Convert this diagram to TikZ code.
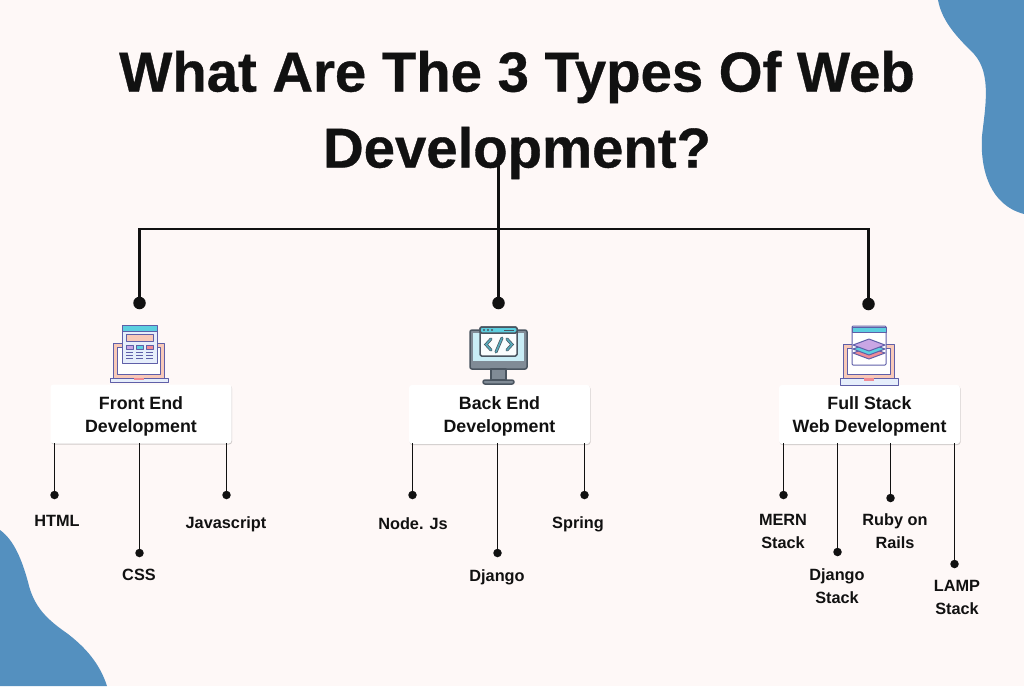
\documentclass[tikz,border=0pt]{standalone}
\usepackage{fontspec}
\setmainfont{Liberation Sans}
\newfontfamily\heavyfont[FakeBold=0.6]{Liberation Sans Bold}
\usetikzlibrary{shadows,calc}
\definecolor{bg}{HTML}{FEF8F7}
\definecolor{blob}{HTML}{5490BF}
\definecolor{ink}{HTML}{111111}
\definecolor{iconline}{HTML}{5F5FA8}
\definecolor{peach}{HTML}{F8C9B8}
\definecolor{lilac}{HTML}{C9A6E4}
\definecolor{aqua}{HTML}{5CCFE0}
\definecolor{rosy}{HTML}{F08C96}
\definecolor{pale}{HTML}{E6EEFB}
\definecolor{slate}{HTML}{4A5560}
\definecolor{slatelt}{HTML}{808B96}
\definecolor{sky}{HTML}{C9EDF6}
\newcommand{\cardlift}{\rule{0pt}{17pt}}
\tikzset{
  titletext/.style={font=\heavyfont\fontsize{56.3pt}{76pt}\selectfont,text=ink,align=center,inner sep=0pt},
  cardbox/.style={fill=white,rounded corners=3pt,minimum width=181pt,minimum height=59pt,inner sep=0pt,align=center,
    font=\fontsize{17.8pt}{23pt}\selectfont\bfseries,text=ink,
    drop shadow={shadow xshift=0.6pt,shadow yshift=-1pt,opacity=0.18,fill=black}},
  leaf/.style={font=\fontsize{16.3pt}{23pt}\selectfont\bfseries,text=ink,align=center,inner sep=0pt},
  trunk/.style={draw=ink,line width=2.4pt},
  twig/.style={draw=ink,line width=1.8pt},
  bigdot/.style={circle,fill=ink,minimum size=12.5pt,inner sep=0pt},
  smalldot/.style={circle,fill=ink,minimum size=8.5pt,inner sep=0pt},
  il/.style={draw=iconline,line width=1pt,line join=round},
  sl/.style={draw=slate,line width=1.5pt,line join=round},
}
\begin{document}
\begin{tikzpicture}[x=1pt,y=-1pt]
\useasboundingbox (0,0) rectangle (1024,686);
\fill[bg] (0,0) rectangle (1024,686);
% blobs
\fill[blob] (938,0) .. controls (942,22) and (958,38) .. (974,54)
  .. controls (992,74) and (985,108) .. (982,136)
  .. controls (980,170) and (990,205) .. (1024,214) -- (1024,0) -- cycle;
\fill[blob] (0,530) .. controls (14,540) and (22,560) .. (28,582)
  .. controls (34,608) and (48,620) .. (68,634)
  .. controls (86,648) and (100,664) .. (107,686) -- (0,686) -- cycle;
% connectors
\coordinate (root) at (498.5,165);
\coordinate (busL) at (139.5,229);
\coordinate (busM) at (498.5,229);
\coordinate (busR) at (868.5,229);
\node[bigdot] (dFront) at (139.5,303) {};
\node[bigdot] (dBack) at (498.5,303) {};
\node[bigdot] (dFull) at (868.5,304) {};
\draw[trunk] (root) -- (dBack.center);
\draw[trunk] (dFront.center) -- (busL) -- (busR) -- (dFull.center);
% title
\node[titletext] (title) at (517,115) {What Are The 3 Types Of Web\\Development?};
% cards
\node[cardbox] (front) at (141,414) {\cardlift Front End\\Development};
\node[cardbox] (back) at (499.5,414.5) {\cardlift Back End\\Development};
\node[cardbox] (full) at (869.5,414.5) {\cardlift Full Stack\\Web Development};
% leaves
\foreach \n/\x/\y in {a/54.5/495,b/139.5/553,c/226.5/495,d/412.5/495,e/497.5/553,f/584.5/495,g/783.5/495,h/837.5/552,i/890.5/498,j/954.5/564}{
  \node[smalldot] (dot\n) at (\x,\y) {};
  \coordinate (top\n) at (\x,443);
  \draw[twig] (top\n) -- (dot\n.center);
}
\node[leaf] (lHTML) at (57,521) {HTML};
\node[leaf] (lCSS) at (139,575) {CSS};
\node[leaf] (lJS) at (226,524) {Javascript};
\node[leaf] (lNode) at (413,524) {Node. Js};
\node[leaf] (lDj) at (497,577) {Django};
\node[leaf] (lSp) at (578,524.5) {Spring};
\node[leaf] (lMERN) at (783,531.5) {MERN\\Stack};
\node[leaf] (lDjS) at (837,586) {Django\\Stack};
\node[leaf] (lRuby) at (895,531.5) {Ruby on\\Rails};
\node[leaf] (lLAMP) at (957,597) {LAMP\\Stack};
% icon: front end
\begin{scope}
\filldraw[il,fill=peach] (113,343) rectangle (164,378);
\filldraw[il,fill=white] (117,347) rectangle (160,374);
\filldraw[il,fill=pale] (122,326) rectangle (157,363);
\filldraw[il,fill=aqua] (122,325) rectangle (157,331);
\filldraw[il,fill=peach] (126,334) rectangle (153,341);
\filldraw[il,fill=lilac] (126,345) rectangle (133,349);
\filldraw[il,fill=aqua] (136,345) rectangle (143,349);
\filldraw[il,fill=rosy] (146,345) rectangle (153,349);
\foreach \yy in {352,355,358}{\draw[iconline,line width=.8pt] (126,\yy) -- (133,\yy) (136,\yy) -- (143,\yy) (146,\yy) -- (153,\yy);}
\filldraw[il,fill=pale] (110,378) rectangle (168,382.5);
\fill[rosy] (134,378) rectangle (144,380);
\end{scope}
% icon: back end
\begin{scope}
\filldraw[sl,fill=slatelt,rounded corners=2pt] (470,330) rectangle (527,369);
\filldraw[draw=none,fill=sky] (473,333) rectangle (524,361);
\filldraw[sl,fill=white!90!sky,rounded corners=1.5pt] (480,327) rectangle (517,356);
\filldraw[sl,fill=aqua,rounded corners=1.5pt] (480,327) rectangle (517,333);
\fill[slate] (484,330) circle (1.2pt) (488,330) circle (1.2pt) (492,330) circle (1.2pt);
\draw[slate,line width=1pt] (504,330) -- (514,330);
\draw[slate,line width=3pt,line cap=round] (491,339) -- (486,344.5) -- (491,350) (507,339) -- (512,344.5) -- (507,350);
\draw[aqua!70!slate,line width=1.6pt,line cap=round] (491,339) -- (486,344.5) -- (491,350) (507,339) -- (512,344.5) -- (507,350);
\draw[slate,line width=3pt,line cap=round] (502,338) -- (496,352);
\draw[aqua!70!slate,line width=1.6pt,line cap=round] (502,338) -- (496,352);
\filldraw[sl,fill=slatelt] (491,369) rectangle (506,380);
\filldraw[sl,fill=slatelt,rounded corners=2pt] (483,380) rectangle (514,384);
\end{scope}
% icon: full stack
\begin{scope}
\filldraw[il,fill=peach] (843,344) rectangle (894,378);
\filldraw[il,fill=white] (847,348) rectangle (890,374);
\filldraw[il,fill=white,rounded corners=1pt] (852,326) rectangle (886,365);
\filldraw[il,fill=aqua] (852,327) rectangle (886,332);
\filldraw[il,fill=rosy] (869,347) -- (885,353) -- (869,359) -- (853,353) -- cycle;
\filldraw[il,fill=aqua] (869,343) -- (885,349) -- (869,355) -- (853,349) -- cycle;
\filldraw[il,fill=lilac] (869,339) -- (885,345) -- (869,351) -- (853,345) -- cycle;
\filldraw[il,fill=pale] (840,378) rectangle (898,385);
\fill[rosy] (864,378) rectangle (874,380.5);
\end{scope}
\end{tikzpicture}
\end{document}
